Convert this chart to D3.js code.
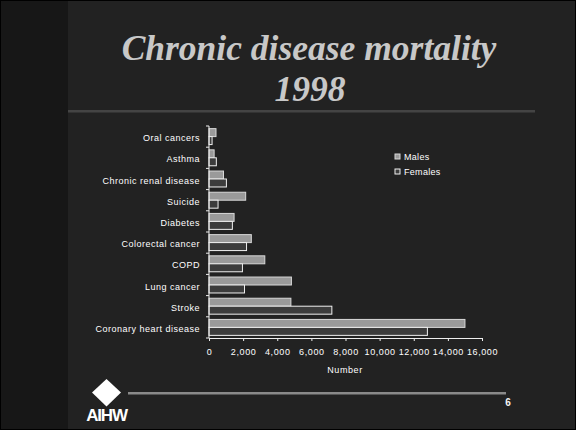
<!DOCTYPE html>
<html>
<head>
<meta charset="utf-8">
<script src="https://cdn.jsdelivr.net/npm/d3@7"></script>
<style>
  body { margin: 0; background: #000; }
  svg { display: block; }
</style>
</head>
<body>
<div id="chart"></div>
<script>
// Data
const categories = ["Oral cancers", "Asthma", "Chronic renal disease", "Suicide", "Diabetes",
    "Colorectal cancer", "COPD", "Lung cancer", "Stroke", "Coronary heart disease"];
const males = [410, 300, 850, 2150, 1470, 2480, 3270, 4830, 4800, 15000];
const females = [180, 430, 1020, 530, 1370, 2200, 1960, 2080, 7200, 12800];
const seriesNames = ["Males", "Females"];
const xTicks = [0, 2000, 4000, 6000, 8000, 10000, 12000, 14000, 16000];

const width = 576, height = 430;
const font = "'Liberation Sans', Arial, sans-serif";

const svg = d3.select("#chart").append("svg")
    .attr("width", width)
    .attr("height", height);

// slide background
svg.append("rect").attr("width", width).attr("height", height).attr("fill", "#000");
svg.append("rect").attr("x", 1).attr("y", 1).attr("width", width - 2).attr("height", height - 2).attr("fill", "#222");
svg.append("rect").attr("x", 1).attr("y", 1).attr("width", 67).attr("height", height - 2).attr("fill", "#171717");

// title
const title = svg.append("text")
    .attr("text-anchor", "middle")
    .attr("fill", "#c8c8c8")
    .style("font-family", "'Liberation Serif', 'Times New Roman', serif")
    .style("font-style", "italic")
    .style("font-weight", "bold")
    .style("font-size", "35.5px");
title.append("tspan").attr("x", 309).attr("y", 60).text("Chronic disease mortality");
title.append("tspan").attr("x", 310).attr("y", 101).text("1998");

svg.append("rect").attr("x", 68).attr("y", 110).attr("width", 467).attr("height", 2.5).attr("fill", "#444");

// scales
const x = d3.scaleLinear().domain([0, 16000]).range([209, 482]);
const y = d3.scaleBand().domain(categories).range([126, 338]);
const ySub = d3.scaleBand().domain(seriesNames).range([0, y.bandwidth()]).paddingOuter(0.33).paddingInner(0);

const rows = categories.map((c, i) => ({ cat: c, values: [males[i], females[i]] }));
const fills = { Males: "#9a9a9a", Females: "#3c3c3c" };
const strokes = { Males: "#d8d8d8", Females: "#f0f0f0" };

const g = svg.append("g");
g.selectAll("g.row")
    .data(rows)
    .join("g")
    .attr("class", "row")
    .attr("transform", d => `translate(0,${y(d.cat)})`)
    .selectAll("rect")
    .data(d => d.values.map((v, i) => ({ key: seriesNames[i], v })))
    .join("rect")
    .attr("x", x(0))
    .attr("y", d => ySub(d.key))
    .attr("width", d => x(d.v) - x(0))
    .attr("height", ySub.bandwidth())
    .attr("fill", d => fills[d.key])
    .attr("stroke", d => strokes[d.key])
    .attr("stroke-width", 1);

// axes
const xAxis = svg.append("g")
    .attr("transform", `translate(0,${y.range()[1]})`)
    .call(d3.axisBottom(x).tickValues(xTicks).tickSize(3).tickSizeOuter(0).tickFormat(d3.format(",")));
xAxis.select(".domain").attr("stroke", "#eee");
xAxis.selectAll(".tick line").attr("stroke", "#eee");
xAxis.selectAll("text")
    .attr("fill", "#fff")
    .attr("dy", "1.2em")
    .style("font-family", font)
    .style("font-size", "9px")
    .style("letter-spacing", "0.6px");

// y axis line with band boundary ticks
const yAxis = svg.append("g");
yAxis.append("line")
    .attr("x1", x(0)).attr("x2", x(0))
    .attr("y1", y.range()[0]).attr("y2", y.range()[1])
    .attr("stroke", "#eee");
yAxis.selectAll("line.tick")
    .data(categories.map(c => y(c)).concat([y.range()[1]]))
    .join("line")
    .attr("class", "tick")
    .attr("x1", x(0) - 3).attr("x2", x(0))
    .attr("y1", d => d).attr("y2", d => d)
    .attr("stroke", "#eee");
yAxis.selectAll("text")
    .data(categories)
    .join("text")
    .attr("x", 200)
    .attr("y", d => y(d) + y.bandwidth() / 2 + 4.5)
    .attr("text-anchor", "end")
    .attr("fill", "#fff")
    .style("font-family", font)
    .style("font-size", "9px")
    .style("letter-spacing", "0.5px")
    .text(d => d);

svg.append("text")
    .attr("x", 345).attr("y", 373)
    .attr("text-anchor", "middle")
    .attr("fill", "#fff")
    .style("font-family", font)
    .style("font-size", "9px")
    .style("letter-spacing", "0.6px")
    .text("Number");

// legend
const legend = svg.append("g").attr("transform", "translate(395,154)");
const li = legend.selectAll("g")
    .data(seriesNames)
    .join("g")
    .attr("transform", (d, i) => `translate(0,${i * 15})`);
li.append("rect")
    .attr("width", 5).attr("height", 5)
    .attr("fill", d => fills[d])
    .attr("stroke", d => strokes[d]);
li.append("text")
    .attr("x", 9).attr("y", 6)
    .attr("fill", "#fff")
    .style("font-family", font)
    .style("font-size", "9px")
    .style("letter-spacing", "0.3px")
    .text(d => d);

// footer line and page number
svg.append("rect").attr("x", 128).attr("y", 392).attr("width", 378).attr("height", 2.5).attr("fill", "#8a8a8a");
svg.append("text")
    .attr("x", 508).attr("y", 406)
    .attr("text-anchor", "middle")
    .attr("fill", "#f4f4f4")
    .style("font-family", font)
    .style("font-size", "10px")
    .style("font-weight", "bold")
    .text("6");

// AIHW logo
svg.append("path")
    .attr("d", "M106.5,379 L121,392.5 L106.5,406.5 L92,392.5 Z")
    .attr("fill", "#fff");
svg.append("text")
    .attr("x", 106.5).attr("y", 421)
    .attr("text-anchor", "middle")
    .attr("fill", "#fff")
    .style("font-family", font)
    .style("font-size", "17px")
    .style("font-weight", "bold")
    .style("letter-spacing", "-1.2px")
    .text("AIHW");
</script>
</body>
</html>
